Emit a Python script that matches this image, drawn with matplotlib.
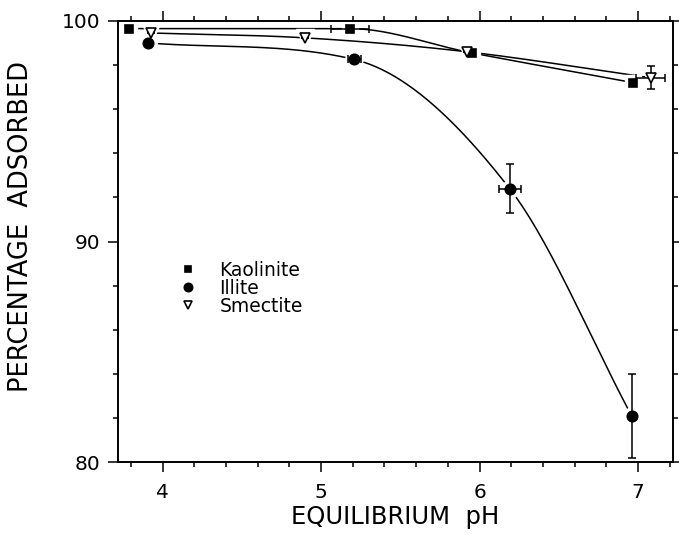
import numpy as np
import matplotlib
matplotlib.use("Agg")
import matplotlib.pyplot as plt
from matplotlib.ticker import MultipleLocator

# datos
kao_ph = [3.79, 5.18, 5.95, 6.97]
kao_pct = [99.65, 99.65, 98.55, 97.2]
kao_xerr = [0, 0.12, 0, 0]

ill_ph = [3.91, 5.21, 6.19, 6.96]
ill_pct = [99.0, 98.25, 92.4, 82.1]
ill_xerr = [0, 0.04, 0.07, 0]
ill_yerr = [0, 0, 1.1, 1.9]

sme_ph = [3.93, 4.90, 5.92, 7.08]
sme_pct = [99.45, 99.23, 98.6, 97.42]
sme_xerr = [0, 0, 0, 0.09]
sme_yerr = [0, 0, 0, 0.53]


def smooth(x, y, xs):
    # Hermite con tangentes Catmull-Rom limitadas (sin rebotes), solo para el trazo
    x = np.asarray(x, float)
    y = np.asarray(y, float)
    h = np.diff(x)
    d = np.diff(y) / h
    m = np.zeros_like(y)
    m[0], m[-1] = d[0], d[-1]
    for k in range(1, len(x) - 1):
        if d[k - 1] * d[k] <= 0:
            m[k] = 0
            continue
        cr = (y[k + 1] - y[k - 1]) / (x[k + 1] - x[k - 1])
        lim = 3 * min(abs(d[k - 1]), abs(d[k]))
        m[k] = np.sign(cr) * min(abs(cr), lim)
    out = np.empty_like(xs)
    for j, xv in enumerate(xs):
        k = min(max(np.searchsorted(x, xv) - 1, 0), len(x) - 2)
        t = (xv - x[k]) / h[k]
        h00 = 2 * t**3 - 3 * t**2 + 1
        h10 = t**3 - 2 * t**2 + t
        h01 = -2 * t**3 + 3 * t**2
        h11 = t**3 - t**2
        out[j] = h00 * y[k] + h10 * h[k] * m[k] + h01 * y[k + 1] + h11 * h[k] * m[k + 1]
    return out


fig = plt.figure(figsize=(6.79, 5.35), dpi=100)
ax = fig.add_axes([0.174, 0.136, 0.817, 0.825])

series = [
    (kao_ph, kao_pct, kao_xerr, None, 's', 6, 'black', 'Kaolinite'),
    (ill_ph, ill_pct, ill_xerr, ill_yerr, 'o', 7.5, 'black', 'Illite'),
    (sme_ph, sme_pct, sme_xerr, sme_yerr, 'v', 7.5, 'white', 'Smectite'),
]

for xs, ys, xe, ye, mk, ms, fc, lab in series:
    xx = np.linspace(xs[0], xs[-1], 200)
    ax.plot(xx, smooth(xs, ys, xx), color='black', lw=1.1, zorder=1)

# halo blanco alrededor de los simbolos (la curva se corta en cada punto)
for xs, ys, xe, ye, mk, ms, fc, lab in series:
    ax.plot(xs, ys, linestyle='none', marker=mk, ms=ms + 5, color='white',
            markeredgecolor='white', zorder=2)

for xs, ys, xe, ye, mk, ms, fc, lab in series:
    ax.errorbar(xs, ys, xerr=xe, yerr=ye, fmt='none', ecolor='black',
                elinewidth=1.1, capsize=3, capthick=1.1, zorder=3)
    ax.plot(xs, ys, linestyle='none', marker=mk, ms=ms, markerfacecolor=fc,
            markeredgecolor='black', markeredgewidth=1.2, zorder=4, label=lab)

ax.set_xlim(3.72, 7.22)
ax.set_ylim(80, 100)
ax.xaxis.set_major_locator(MultipleLocator(1))
ax.xaxis.set_minor_locator(MultipleLocator(0.2))
ax.yaxis.set_major_locator(MultipleLocator(10))
ax.yaxis.set_minor_locator(MultipleLocator(2))
ax.tick_params(which='both', direction='out', top=True, right=True,
               width=1.1, labelsize=14.5)
ax.tick_params(which='major', length=7)
ax.tick_params(axis='x', which='major', pad=8)
ax.tick_params(axis='y', which='major', pad=6)
ax.tick_params(which='minor', length=3.5)
for sp in ax.spines.values():
    sp.set_linewidth(1.4)

ax.set_xlabel('EQUILIBRIUM  pH', fontsize=17.5, labelpad=2)
ax.set_ylabel('PERCENTAGE  ADSORBED', fontsize=18.5)
ax.yaxis.set_label_coords(-0.152, 0.535)

ax.legend(loc='upper left', bbox_to_anchor=(0.078, 0.495), frameon=False,
          fontsize=13.5, handlelength=1.0, handletextpad=1.2, labelspacing=-0.05,
          markerscale=0.8)

fig.savefig('out.png', dpi=100)
